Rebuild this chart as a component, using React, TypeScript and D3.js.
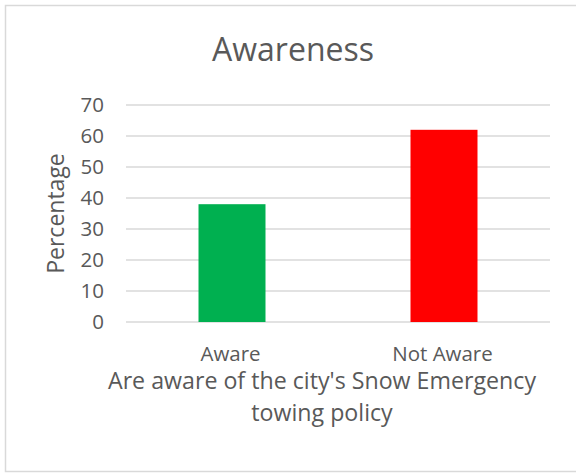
import React from "react";
import * as d3 from "d3";

const categories = ["Aware", "Not Aware"];
const values = [38, 62];
const colors = ["#00b050", "#ff0000"];
const yTicks = [0, 10, 20, 30, 40, 50, 60, 70];
const title = "Awareness";
const yTitle = "Percentage";
const xTitleLines = ["Are aware of the city's Snow Emergency", "towing policy"];

const W = 576;
const H = 473;
const plot = { left: 126, right: 550, top: 105, bottom: 322 };
const FONT = "'Open Sans', sans-serif";
const TEXT = "#595959";
const GRID = "#d9d9d9";

export default function App() {
  const x = d3
    .scaleBand<string>()
    .domain(categories)
    .range([plot.left, plot.right])
    .paddingInner(0.684)
    .paddingOuter(0.342);
  const y = d3.scaleLinear().domain([0, 70]).range([plot.bottom, plot.top]);

  return (
    <svg
      width={W}
      height={H}
      style={{ position: "absolute", left: 0, top: 0, background: "#fff" }}
      fontFamily={FONT}
    >
      <rect x={0} y={0} width={W} height={H} fill="#fff" />
      <rect x={5.5} y={5.5} width={620} height={466} fill="none" stroke={GRID} strokeWidth={1.5} />
      <text x={293} y={61} textAnchor="middle" fontSize={32} fill={TEXT}>
        {title}
      </text>
      {yTicks.map((t) => (
        <g key={t}>
          <line x1={plot.left} x2={plot.right} y1={y(t)} y2={y(t)} stroke={GRID} strokeWidth={1.3} />
          <text x={104} y={y(t)} dy="0.36em" textAnchor="end" fontSize={20.5} fill={TEXT}>
            {t}
          </text>
        </g>
      ))}
      {categories.map((c, i) => (
        <rect
          key={c}
          x={x(c)}
          y={y(values[i])}
          width={x.bandwidth()}
          height={y(0) - y(values[i])}
          fill={colors[i]}
        />
      ))}
      {categories.map((c) => (
        <text key={c} x={(x(c) as number) + x.bandwidth() / 2 - 1.5} y={361} textAnchor="middle" fontSize={20.5} fill={TEXT}>
          {c}
        </text>
      ))}
      <text
        transform={`translate(64,${(plot.top + plot.bottom) / 2}) rotate(-90)`}
        textAnchor="middle"
        fontSize={23}
        fill={TEXT}
      >
        {yTitle}
      </text>
      {xTitleLines.map((l, i) => (
        <text key={i} x={322} y={389 + i * 32} textAnchor="middle" fontSize={23.2} fill={TEXT}>
          {l}
        </text>
      ))}
    </svg>
  );
}
